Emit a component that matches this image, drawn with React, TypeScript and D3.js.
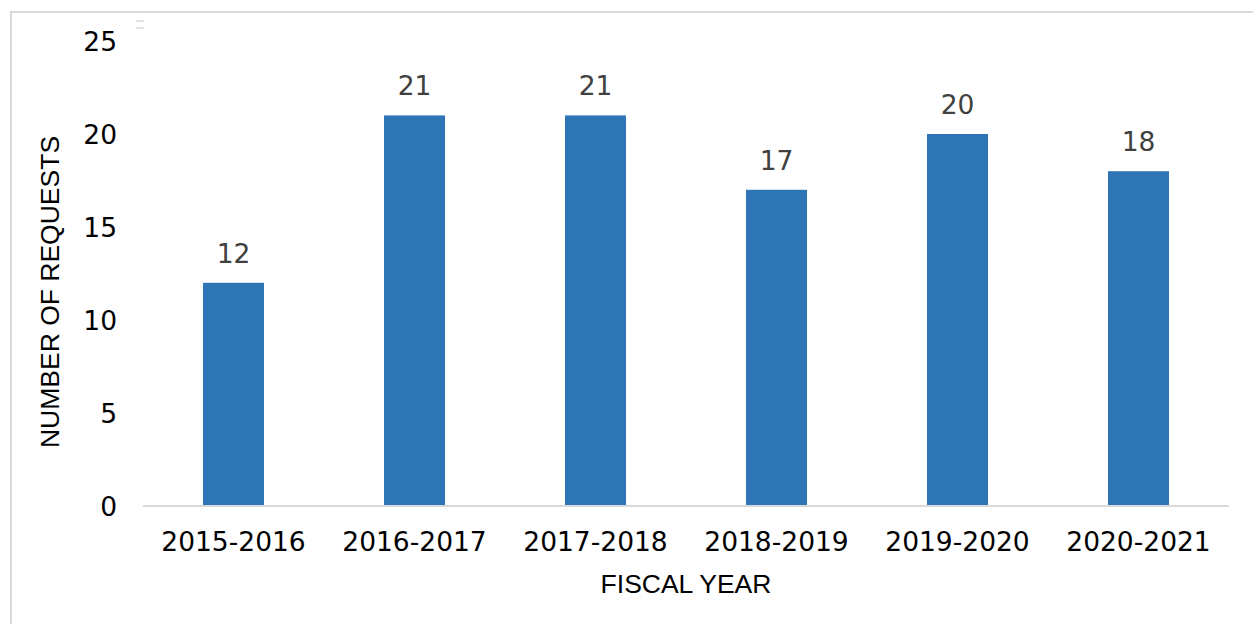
import React from "react";
import * as d3 from "d3";

const categories = ["2015-2016", "2016-2017", "2017-2018", "2018-2019", "2019-2020", "2020-2021"];
const requests = [12, 21, 21, 17, 20, 18];
const yTicks = [0, 5, 10, 15, 20, 25];

const W = 1253;
const H = 624;
const margin = { left: 143, right: 24, top: 41, bottom: 118 };

export default function App() {
  const x = d3
    .scaleBand<string>()
    .domain(categories)
    .range([margin.left, W - margin.right])
    .paddingInner(0.663)
    .paddingOuter(0.3315);
  const y = d3.scaleLinear().domain([0, 25]).range([H - margin.bottom, margin.top]);
  const tickFont = "'DejaVu Sans', Verdana, sans-serif";
  const titleFont = "'Liberation Sans', Arial, sans-serif";
  const fs = 26.5;
  return (
    <div style={{ position: "absolute", left: 0, top: 0 }}>
      <svg width={W} height={H} style={{ display: "block", background: "#fff" }}>
        <rect x={11} y={12} width={1400} height={800} fill="#fff" stroke="#d9d9d9" strokeWidth={2} />
        <line x1={136} x2={144} y1={21} y2={21} stroke="#d9d9d9" strokeWidth={1.5} />
        <line x1={136} x2={144} y1={28} y2={28} stroke="#d9d9d9" strokeWidth={1.5} />
        {yTicks.map((t) => (
          <text
            key={t}
            x={117}
            y={y(t)}
            textAnchor="end"
            dominantBaseline="central"
            fontFamily={tickFont}
            fontSize={fs}
            fill="#000"
          >
            {t}
          </text>
        ))}
        {categories.map((c, i) => (
          <g key={c}>
            <rect
              x={x(c)!}
              y={y(requests[i])}
              width={x.bandwidth()}
              height={y(0) - y(requests[i])}
              fill="#2E75B6"
            />
            <text
              x={x(c)! + x.bandwidth() / 2}
              y={y(requests[i]) - 20}
              textAnchor="middle"
              fontFamily={tickFont}
              fontSize={fs}
              fill="#404040"
            >
              {requests[i]}
            </text>
            <text
              x={x(c)! + x.bandwidth() / 2}
              y={551}
              textAnchor="middle"
              fontFamily={tickFont}
              fontSize={fs}
              fill="#000"
            >
              {c}
            </text>
          </g>
        ))}
        <line
          x1={margin.left}
          x2={W - margin.right}
          y1={y(0)}
          y2={y(0)}
          stroke="#d9d9d9"
          strokeWidth={2}
        />
        <text
          x={(margin.left + W - margin.right) / 2}
          y={593}
          textAnchor="middle"
          fontFamily={titleFont}
          fontSize={26.5}
          fill="#000"
        >
          FISCAL YEAR
        </text>
        <text
          transform={`translate(59, 292) rotate(-90)`}
          textAnchor="middle"
          fontFamily={titleFont}
          fontSize={26.5}
          fill="#000"
        >
          NUMBER OF REQUESTS
        </text>
      </svg>
    </div>
  );
}
